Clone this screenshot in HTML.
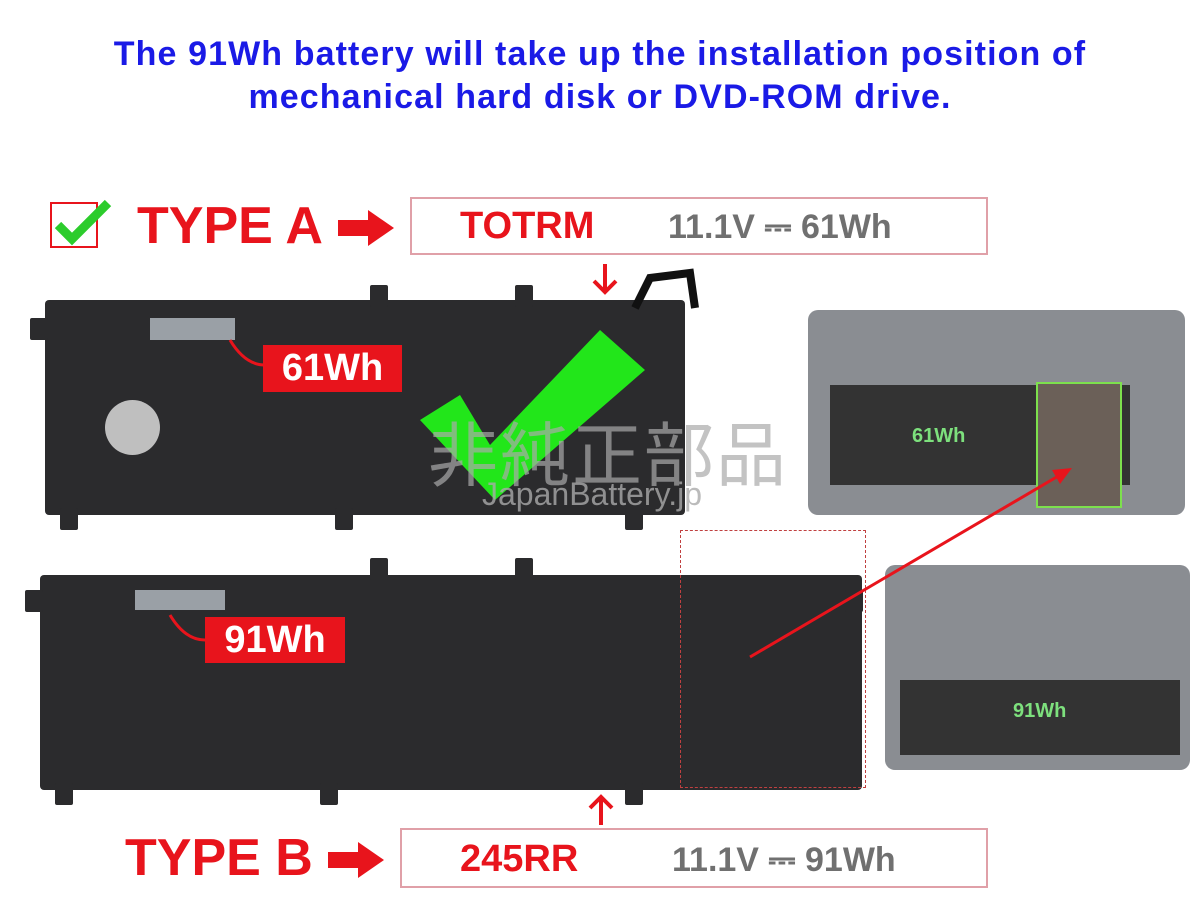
<!DOCTYPE html>
<html><head><meta charset="utf-8"><style>
*{margin:0;padding:0;box-sizing:border-box}
body{width:1200px;height:900px;background:#fff;position:relative;overflow:hidden;font-family:"Liberation Sans","Noto Sans CJK JP",sans-serif}
.a{position:absolute}
.title{left:0;width:1200px;text-align:center;color:#1a1ae6;font-weight:bold;font-size:34px;letter-spacing:1.1px;line-height:43px;top:33px;white-space:nowrap}
.red{color:#e8141c;font-weight:bold}
.box{border:2px solid #e0a0a8;background:#fff}
.bat{background:#2b2b2d;border-radius:4px}
.tab{background:#2b2b2d;width:18px;height:22px;border-radius:2px}
.lbl{background:#e8141c;color:#fff;font-weight:bold;font-size:38px;text-align:center}
.gray{color:#707070;font-weight:bold;font-size:34px}
</style></head><body>
<div class="a title">The 91Wh battery will take up the installation position of<br>mechanical hard disk or DVD-ROM drive.</div>

<div class="a" style="left:50px;top:202px;width:48px;height:46px;border:2px solid #e8141c"></div>
<svg class="a" style="left:50px;top:195px" width="70" height="60"><polyline points="8,30 22,44 58,8" fill="none" stroke="#2ccc2c" stroke-width="9"/></svg>
<div class="a red" style="left:137px;top:196px;font-size:52px">TYPE A</div>
<svg class="a" style="left:338px;top:208px" width="60" height="40"><polygon points="0,12 30,12 30,2 56,20 30,38 30,28 0,28" fill="#e8141c"/></svg>
<div class="a box" style="left:410px;top:197px;width:578px;height:58px"></div>
<div class="a red" style="left:460px;top:205px;font-size:38px">TOTRM</div>
<div class="a gray" style="left:668px;top:208px">11.1V ⎓ 61Wh</div>
<svg class="a" style="left:590px;top:262px" width="30" height="34"><path d="M15,2 V30 M4,19 L15,30 L26,19" stroke="#e8141c" stroke-width="4" fill="none"/></svg>

<div class="a bat" style="left:45px;top:300px;width:640px;height:215px"></div>
<div class="a tab" style="left:370px;top:285px"></div><div class="a tab" style="left:515px;top:285px"></div>
<div class="a tab" style="left:60px;top:508px"></div><div class="a tab" style="left:335px;top:508px"></div><div class="a tab" style="left:625px;top:508px"></div>
<div class="a tab" style="left:30px;top:318px"></div>
<div class="a" style="left:150px;top:318px;width:85px;height:22px;background:#9aa0a6"></div>
<div class="a" style="left:105px;top:400px;width:55px;height:55px;border-radius:50%;background:#bfbfbf"></div>
<svg class="a" style="left:630px;top:268px" width="70" height="50"><path d="M5,40 L20,10 L60,5 L65,40" fill="none" stroke="#111" stroke-width="8"/></svg>
<svg class="a" style="left:415px;top:325px" width="240" height="180"><polygon points="5,95 45,70 75,120 185,5 230,45 80,175" fill="#22e61a"/></svg>
<div class="a" style="left:428px;top:400px;font-size:70px;color:rgba(170,170,170,.7);letter-spacing:2px">非純正部品</div>
<div class="a" style="left:482px;top:476px;font-size:32px;color:rgba(170,170,170,.8)">JapanBattery.jp</div>
<div class="a lbl" style="left:263px;top:345px;width:139px;height:47px;line-height:47px">61Wh</div>
<svg class="a" style="left:220px;top:335px" width="50" height="40"><path d="M45,30 Q25,30 10,5" stroke="#e8141c" stroke-width="3" fill="none"/></svg>

<div class="a" style="left:808px;top:310px;width:377px;height:205px;background:#8a8d92;border-radius:10px"></div>
<div class="a" style="left:830px;top:385px;width:300px;height:100px;background:#333"></div>
<div class="a" style="left:912px;top:425px;font-size:20px;font-weight:bold;color:#7de07d">61Wh</div>
<div class="a" style="left:1036px;top:382px;width:86px;height:126px;border:2px solid #7de04d;background:#6b6058"></div>

<div class="a bat" style="left:40px;top:575px;width:822px;height:215px"></div>
<div class="a tab" style="left:370px;top:558px"></div><div class="a tab" style="left:515px;top:558px"></div>
<div class="a tab" style="left:55px;top:783px"></div><div class="a tab" style="left:320px;top:783px"></div><div class="a tab" style="left:625px;top:783px"></div>
<div class="a tab" style="left:25px;top:590px"></div><div class="a tab" style="left:845px;top:590px"></div>
<div class="a" style="left:135px;top:590px;width:90px;height:20px;background:#9aa0a6"></div>
<div class="a" style="left:680px;top:530px;width:186px;height:258px;border:1.5px dashed #c04040"></div>
<div class="a lbl" style="left:205px;top:617px;width:140px;height:46px;line-height:46px">91Wh</div>
<svg class="a" style="left:160px;top:610px" width="50" height="40"><path d="M45,30 Q25,30 10,5" stroke="#e8141c" stroke-width="3" fill="none"/></svg>

<div class="a" style="left:885px;top:565px;width:305px;height:205px;background:#8a8d92;border-radius:10px"></div>
<div class="a" style="left:900px;top:680px;width:280px;height:75px;background:#333"></div>
<div class="a" style="left:1013px;top:700px;font-size:20px;font-weight:bold;color:#7de07d">91Wh</div>

<svg class="a" style="left:0;top:0" width="1200" height="900"><line x1="750" y1="657" x2="1060" y2="475" stroke="#e8141c" stroke-width="3"/><polygon points="1072,468 1052,470 1060,484" fill="#e8141c"/></svg>

<svg class="a" style="left:586px;top:793px" width="30" height="34"><path d="M15,32 V4 M4,15 L15,4 L26,15" stroke="#e8141c" stroke-width="4" fill="none"/></svg>
<div class="a red" style="left:125px;top:828px;font-size:52px">TYPE B</div>
<svg class="a" style="left:328px;top:840px" width="60" height="40"><polygon points="0,12 30,12 30,2 56,20 30,38 30,28 0,28" fill="#e8141c"/></svg>
<div class="a box" style="left:400px;top:828px;width:588px;height:60px"></div>
<div class="a red" style="left:460px;top:838px;font-size:38px">245RR</div>
<div class="a gray" style="left:672px;top:841px">11.1V ⎓ 91Wh</div>
</body></html>
